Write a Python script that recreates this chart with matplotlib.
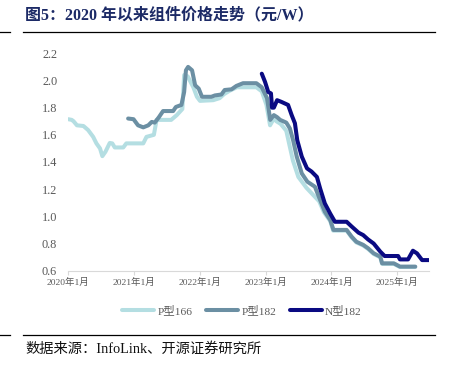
import matplotlib
matplotlib.use("Agg")
import matplotlib.pyplot as plt
from matplotlib.lines import Line2D
import pandas as pd

plt.rcParams['font.family'] = ['Liberation Serif', 'Noto Sans CJK SC', 'DejaVu Sans']

# ---- data ----
p166_dates = ["2020-01-01", "2020-01-20", "2020-01-30", "2020-02-18", "2020-03-25", "2020-04-20",
              "2020-05-18", "2020-06-05", "2020-06-25", "2020-07-08", "2020-07-25", "2020-08-18",
              "2020-09-01", "2020-09-15", "2020-11-01", "2020-11-18", "2021-02-20", "2021-03-10",
              "2021-04-20", "2021-05-05", "2021-07-25", "2021-08-25", "2021-09-25", "2021-10-05",
              "2021-10-25", "2021-11-25", "2021-12-15", "2022-01-01", "2022-03-15", "2022-04-20",
              "2022-05-15", "2022-06-15", "2022-07-25", "2022-11-10", "2022-12-10", "2023-01-05",
              "2023-01-25", "2023-02-15", "2023-03-01", "2023-03-25", "2023-04-25", "2023-05-10",
              "2023-06-01", "2023-07-01", "2023-08-15", "2023-10-25", "2023-11-20", "2023-12-25",
              "2024-01-10", "2024-03-25", "2024-04-22", "2024-05-18", "2024-06-25", "2024-07-22",
              "2024-08-22", "2024-09-28", "2024-10-08", "2024-12-12", "2025-01-15", "2025-04-10"]
p166_vals = [1.715, 1.71, 1.70, 1.67, 1.665, 1.635,
             1.585, 1.537, 1.50, 1.443, 1.475, 1.54,
             1.537, 1.507, 1.507, 1.537, 1.537, 1.585,
             1.60, 1.71, 1.71, 1.745, 1.79, 2.04,
             2.03, 1.95, 1.88, 1.85, 1.855, 1.87,
             1.90, 1.925, 1.95, 1.95, 1.92, 1.82,
             1.67, 1.72, 1.70, 1.68, 1.63, 1.54,
             1.41, 1.29, 1.21, 1.11, 1.03, 0.965,
             0.895, 0.895, 0.845, 0.808, 0.785, 0.76,
             0.723, 0.698, 0.65, 0.65, 0.627, 0.627]

p182_dates = ["2020-11-28", "2020-12-28", "2021-01-22", "2021-02-20", "2021-03-20", "2021-04-08",
              "2021-04-25", "2021-05-18", "2021-06-10", "2021-07-01", "2021-08-05", "2021-08-20",
              "2021-09-20", "2021-10-05", "2021-10-15", "2021-10-27", "2021-11-18", "2021-12-05",
              "2021-12-25", "2022-01-12", "2022-03-05", "2022-03-25", "2022-04-30", "2022-05-18",
              "2022-06-25", "2022-07-22", "2022-08-28", "2022-11-10", "2022-12-10", "2023-01-08",
              "2023-01-26", "2023-02-15", "2023-03-05", "2023-03-22", "2023-04-25", "2023-05-15",
              "2023-06-02", "2023-06-22", "2023-07-20", "2023-08-20", "2023-10-01", "2023-10-30",
              "2023-11-25", "2023-12-25", "2024-01-12", "2024-03-25", "2024-04-22", "2024-05-18",
              "2024-06-25", "2024-07-22", "2024-08-22", "2024-09-28", "2024-10-08", "2024-12-12",
              "2025-01-15", "2025-04-10"]
p182_vals = [1.72, 1.715, 1.67, 1.655, 1.67, 1.695,
             1.69, 1.73, 1.775, 1.775, 1.775, 1.805,
             1.82, 1.915, 2.075, 2.10, 2.075, 1.965,
             1.94, 1.88, 1.88, 1.89, 1.897, 1.93,
             1.935, 1.96, 1.98, 1.98, 1.95, 1.87,
             1.71, 1.745, 1.73, 1.71, 1.69, 1.647,
             1.56, 1.44, 1.316, 1.255, 1.218, 1.12,
             1.034, 0.973, 0.90, 0.90, 0.85, 0.813,
             0.79, 0.765, 0.728, 0.703, 0.654, 0.654,
             0.63, 0.63]

n182_dates = ["2022-12-10", "2022-12-28", "2023-01-15", "2023-01-30", "2023-02-05", "2023-02-15",
              "2023-03-05", "2023-03-28", "2023-05-05", "2023-05-25", "2023-06-12", "2023-06-25",
              "2023-07-20", "2023-08-18", "2023-09-12", "2023-10-12", "2023-10-30", "2023-11-25",
              "2023-12-25", "2024-01-20", "2024-03-25", "2024-04-22", "2024-05-30", "2024-06-25",
              "2024-07-22", "2024-08-22", "2024-09-28", "2024-10-22", "2025-01-05", "2025-01-15",
              "2025-03-01", "2025-03-28", "2025-04-20", "2025-05-18", "2025-06-25"]
n182_vals = [2.05, 1.99, 1.915, 1.905, 1.80, 1.80,
             1.855, 1.843, 1.82, 1.745, 1.685, 1.56,
             1.44, 1.353, 1.33, 1.29, 1.205, 1.095,
             1.02, 0.96, 0.96, 0.925, 0.88, 0.862,
             0.83, 0.80, 0.74, 0.708, 0.708, 0.683,
             0.683, 0.747, 0.727, 0.678, 0.678]

series_names = ["P型166", "P型182", "N型182"]
series_colors = ["#B4DEE2", "#6B8FA3", "#0A0A82"]

yticks = [0.6, 0.8, 1.0, 1.2, 1.4, 1.6, 1.8, 2.0, 2.2]
xtick_dates = ["2020-01-01", "2021-01-01", "2022-01-01", "2023-01-01", "2024-01-01", "2025-01-01"]
xtick_labels = ["2020年1月", "2021年1月", "2022年1月", "2023年1月", "2024年1月", "2025年1月"]

# ---- figure ----
fig = plt.figure(figsize=(4.53, 3.71), dpi=100)
ax = fig.add_axes([0.1508, 0.2704, 0.7969, 0.5859])

series = [(p166_dates, p166_vals), (p182_dates, p182_vals), (n182_dates, n182_vals)]
for (d, v), name, c in zip(series, series_names, series_colors):
    ax.plot(pd.to_datetime(d), v, color=c, lw=2.9, label=name,
            solid_joinstyle='round', solid_capstyle='round')

ax.set_ylim(0.6, 2.2)
ax.set_yticks(yticks)
ax.set_yticklabels([f"{t:.1f}" for t in yticks])
ax.set_xlim(pd.Timestamp("2020-01-01"), pd.Timestamp("2025-06-27"))
ax.set_xticks(pd.to_datetime(xtick_dates))
ax.set_xticklabels(xtick_labels)

for s in ["top", "right", "left"]:
    ax.spines[s].set_visible(False)
ax.spines["bottom"].set_color("#D9D9D9")
ax.spines["bottom"].set_linewidth(0.8)
ax.tick_params(axis='y', length=0, labelsize=8.8, labelcolor="#595959", pad=8)
ax.tick_params(axis='x', length=3, color="#D9D9D9", labelsize=6.8, labelcolor="#595959", pad=2)

leg = fig.legend(loc="center", bbox_to_anchor=(0.534, 0.162), ncol=3, frameon=False,
                 fontsize=8.2, handlelength=2.8, handletextpad=0.3, columnspacing=1.2)
for t in leg.get_texts():
    t.set_color("#595959")

# title and source
fig.text(0.055, 0.958, "图5：2020 年以来组件价格走势（元/W）", fontsize=11.5, fontweight="bold",
         color="#1C2A66", va="center", ha="left")
fig.text(0.055, 0.06, "数据来源：InfoLink、开源证券研究所", fontsize=10.3, color="#111111",
         va="center", ha="left")

# rules
for yy in [1 - 32.3 / 371, 1 - 335 / 371]:
    fig.add_artist(Line2D([23 / 453, 435 / 453], [yy, yy], color="black", lw=0.9))
    fig.add_artist(Line2D([0, 10 / 453], [yy, yy], color="black", lw=0.9))

fig.savefig("out.png", dpi=100)
